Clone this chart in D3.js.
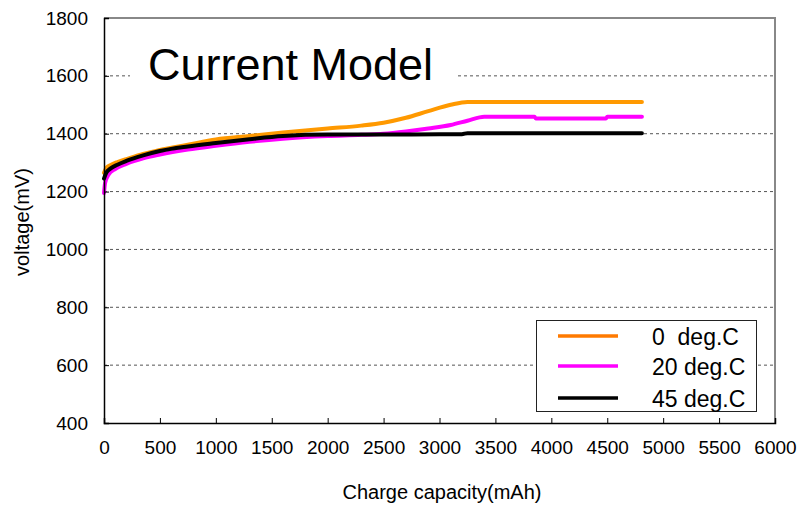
<!DOCTYPE html>
<html>
<head>
<meta charset="utf-8">
<script src="https://cdn.jsdelivr.net/npm/d3@7"></script>
<style>
  html, body { margin: 0; padding: 0; background: #fff; }
  svg { display: block; font-family: "Liberation Sans", Arial, sans-serif; }
</style>
</head>
<body>
<svg id="chart" width="801" height="506"></svg>
<script>
// ---- data ----
const xTicks = [0, 500, 1000, 1500, 2000, 2500, 3000, 3500, 4000, 4500, 5000, 5500, 6000];
const yTicks = [400, 600, 800, 1000, 1200, 1400, 1600, 1800];
const seriesNames = ["0  deg.C", "20 deg.C", "45 deg.C"];

const cap0  = [0, 20, 60, 120, 200, 350, 500, 750, 1000, 1300, 1600, 2000, 2300, 2500, 2700, 2900, 3100, 3250, 4810];
const volt0 = [1265, 1282, 1292, 1302, 1312, 1330, 1344, 1362, 1380, 1392, 1404, 1418, 1428, 1438, 1455, 1478, 1500, 1510, 1510];

const cap20  = [0, 10, 40, 100, 200, 350, 500, 750, 1000, 1300, 1600, 2000, 2300, 2500, 2700, 2900, 3100, 3250, 3400, 3850, 3860, 4490, 4500, 4810];
const volt20 = [1195, 1230, 1258, 1278, 1296, 1315, 1328, 1345, 1358, 1372, 1383, 1392, 1396, 1400, 1408, 1418, 1430, 1445, 1459, 1459, 1453, 1453, 1459, 1459];

const cap45  = [0, 20, 60, 120, 200, 350, 500, 750, 1000, 1300, 1600, 2000, 2500, 3000, 3200, 3250, 4810];
const volt45 = [1245, 1265, 1280, 1293, 1306, 1325, 1340, 1356, 1368, 1381, 1392, 1397, 1397, 1398, 1398, 1402, 1402];

// ---- layout ----
const mLeft = 104, mRight = 775, mTop = 18, mBottom = 423;
const svg = d3.select("#chart");

const x = d3.scaleLinear().domain([0, 6000]).range([mLeft, mRight]);
const y = d3.scaleLinear().domain([400, 1800]).range([mBottom, mTop]);

// gridlines
svg.append("g").selectAll("line")
  .data(yTicks.filter(t => t > 400 && t < 1800))
  .join("line")
  .attr("x1", mLeft).attr("x2", mRight)
  .attr("y1", d => y(d)).attr("y2", d => y(d))
  .attr("stroke", "#555").attr("stroke-width", 1)
  .attr("stroke-dasharray", "3,3");

// top and right border
svg.append("path")
  .attr("d", `M${mLeft},${mTop}H${mRight}V${mBottom}`)
  .attr("fill", "none").attr("stroke", "#888").attr("stroke-width", 2);

// title box (white background)
svg.append("rect").attr("x", 130).attr("y", 34).attr("width", 328).attr("height", 60).attr("fill", "#fff");
svg.append("text").attr("x", 148).attr("y", 80)
  .attr("font-size", 45).attr("fill", "#000").text("Current Model");

// lines
const colors = ["#FF9900", "#FF00FF", "#000000"];
const caps = [cap0, cap20, cap45];
const volts = [volt0, volt20, volt45];
const line = d3.line().x(d => x(d[0])).y(d => y(d[1])).curve(d3.curveMonotoneX);
caps.forEach((c, i) => {
  const pts = c.map((v, j) => [v, volts[i][j]]);
  svg.append("path").datum(pts)
    .attr("d", line)
    .attr("fill", "none").attr("stroke", colors[i])
    .attr("stroke-width", 4).attr("stroke-linejoin", "round").attr("stroke-linecap", "round");
});

// axes
const fmt = d3.format("d");
const yAxis = d3.axisLeft(y).tickValues(yTicks).tickFormat(fmt).tickSize(-5).tickPadding(16);
const gy = svg.append("g").attr("transform", `translate(${mLeft},0)`).call(yAxis);
gy.select(".domain").attr("stroke", "#000").attr("stroke-width", 1.5);
gy.selectAll(".tick line").attr("stroke", "#000");
gy.selectAll(".tick").filter(d => d === 1800).select("line").remove();
gy.selectAll("text").attr("font-size", 19).attr("font-family", "Liberation Sans, Arial, sans-serif").attr("fill", "#000");

const xAxis = d3.axisBottom(x).tickValues(xTicks).tickFormat(fmt).tickSize(-5).tickPadding(18);
const gx = svg.append("g").attr("transform", `translate(0,${mBottom})`).call(xAxis);
gx.select(".domain").attr("stroke", "#000").attr("stroke-width", 1.5);
gx.selectAll(".tick line").attr("stroke", "#000");
gx.selectAll("text").attr("font-size", 19).attr("font-family", "Liberation Sans, Arial, sans-serif").attr("fill", "#000");

// axis titles
svg.append("text").attr("x", 442).attr("y", 499).attr("text-anchor", "middle")
  .attr("font-size", 20).text("Charge capacity(mAh)");
svg.append("text").attr("transform", "translate(29,222) rotate(-90)").attr("text-anchor", "middle")
  .attr("font-size", 20).text("voltage(mV)");

// legend
const lg = svg.append("g");
lg.append("rect").attr("x", 536.5).attr("y", 320.5).attr("width", 220).attr("height", 91)
  .attr("fill", "#fff").attr("stroke", "#222").attr("stroke-width", 1);
const legendY = [336, 366, 398];
seriesNames.forEach((n, i) => {
  lg.append("line").attr("x1", 558).attr("x2", 618).attr("y1", legendY[i]).attr("y2", legendY[i])
    .attr("stroke", i === 0 ? "#FF7A00" : colors[i]).attr("stroke-width", 3.5);
  lg.append("text").attr("x", 652).attr("y", legendY[i] + 9)
    .attr("font-size", 23).style("white-space", "pre").attr("fill", "#000").text(n);
});
</script>
</body>
</html>
